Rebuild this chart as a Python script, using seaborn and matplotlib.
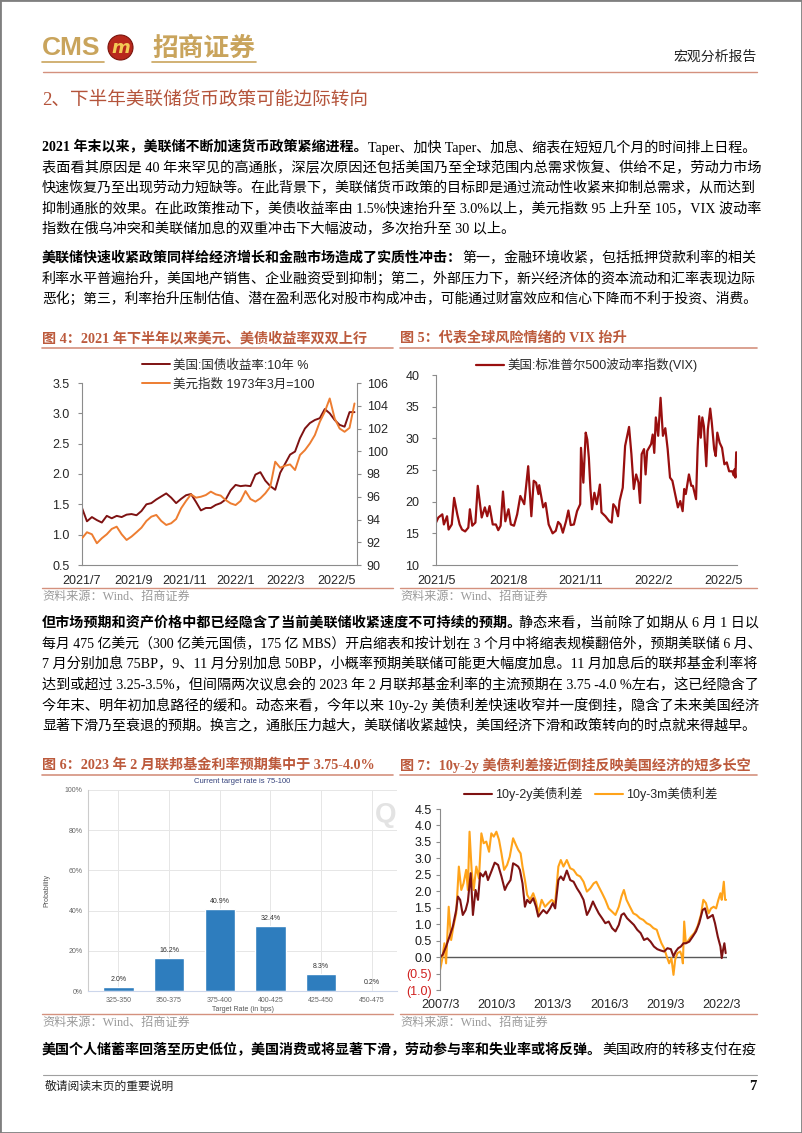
import matplotlib
matplotlib.use("Agg")
import matplotlib.pyplot as plt
import matplotlib.dates as mdates
from matplotlib.lines import Line2D
from matplotlib.patches import Ellipse, Rectangle
from matplotlib.ticker import FuncFormatter, MultipleLocator
import pandas as pd
import seaborn as sns

# ---------------- data ----------------
# fig 4: 10y UST yield (left axis) and dollar index (right axis), Jul-2021 .. May-2022
ust10y = [1.44, 1.22, 1.29, 1.24, 1.20, 1.31, 1.27, 1.31, 1.29, 1.33,
          1.34, 1.32, 1.39, 1.50, 1.52, 1.58, 1.63, 1.68, 1.61, 1.52,
          1.59, 1.65, 1.67, 1.54, 1.40, 1.44, 1.44, 1.49, 1.52, 1.58,
          1.73, 1.82, 1.80, 1.81, 1.80, 1.99, 2.03, 1.89, 1.80, 1.74,
          2.02, 2.17, 2.32, 2.37, 2.59, 2.75, 2.84, 2.89, 2.92, 3.07,
          3.00, 2.89, 2.81, 2.78, 3.02, 3.02]
dxy = [92.35, 92.88, 92.70, 91.91, 92.35, 92.70, 93.17, 93.37, 92.70, 92.20,
       92.50, 92.88, 93.28, 93.87, 94.25, 94.40, 93.87, 93.52, 93.67, 94.04,
       94.98, 95.63, 96.21, 95.92, 96.00, 96.15, 96.45, 96.21, 96.10, 95.71,
       95.42, 95.27, 95.63, 96.50, 95.80, 95.57, 95.86, 96.30, 96.88, 99.08,
       98.55, 98.73, 98.84, 98.35, 99.67, 100.10, 100.69, 101.42, 102.59, 103.47,
       104.64, 102.88, 102.00, 101.71, 102.06, 104.20]
ust_start, ust_end = "2021-07-01", "2022-05-23"

# fig 5: VIX, days after 2021-05-01
vix_start = "2021-05-01"
vix_day = [0, 3, 8, 10, 14, 16, 20, 23, 27, 30,
           33, 37, 41, 43, 46, 50, 53, 58, 62, 65,
           68, 72, 76, 79, 82, 85, 88, 92, 95, 99,
           103, 107, 112, 117, 121, 124, 127, 130, 131, 136,
           139, 143, 148, 152, 155, 158, 161, 165, 168, 171,
           175, 179, 183, 184, 187, 190, 192, 194, 196, 198,
           201, 204, 208, 210, 215, 220, 223, 225, 228, 231,
           233, 237, 240, 245, 248, 251, 254, 257, 259, 261,
           264, 266, 268, 273, 275, 277, 279, 282, 285, 288,
           291, 294, 297, 300, 304, 307, 310, 313, 315, 317,
           321, 324, 326, 330, 332, 334, 336, 338, 340, 343,
           345, 348, 350, 353, 355, 357, 360, 363, 366, 369,
           372, 376, 378, 379, 380, 381]
vix = [16.7, 17.5, 18.0, 16.4, 17.7, 15.6, 16.4, 20.6, 18.0, 16.4,
       15.6, 15.3, 15.9, 18.8, 16.2, 16.7, 22.5, 17.5, 19.1, 17.7,
       19.3, 16.4, 16.4, 15.5, 16.2, 21.6, 16.9, 18.8, 16.4, 16.2,
       18.0, 20.9, 19.6, 25.6, 17.7, 23.3, 23.0, 21.2, 22.6, 19.1,
       19.8, 16.4, 15.0, 15.4, 16.8, 16.4, 15.1, 16.9, 18.6, 16.3,
       16.4, 18.5, 19.6, 28.5, 23.0, 30.9, 29.8, 26.9, 22.0, 18.8,
       21.4, 19.6, 22.7, 18.3, 17.7, 16.9, 16.7, 19.6, 19.1, 17.7,
       20.1, 22.2, 28.8, 31.8, 27.5, 22.0, 24.3, 23.0, 19.8, 27.5,
       28.3, 24.3, 28.0, 29.1, 30.6, 27.7, 33.3, 30.4, 36.4, 30.4,
       31.6, 28.3, 23.8, 23.3, 20.9, 19.1, 20.1, 18.5, 22.0, 21.2,
       24.3, 22.5, 22.5, 20.4, 28.3, 33.5, 30.1, 33.3, 31.9, 25.6,
       31.4, 34.7, 32.5, 28.3, 27.2, 30.9, 29.3, 28.5, 25.9, 26.2,
       24.8, 24.8, 24.1, 25.1, 23.8, 27.8]

# fig 6: CME FedWatch, Feb-2023 meeting
rate_bins = ["325-350", "350-375", "375-400", "400-425", "425-450", "450-475"]
rate_prob = [2.0, 16.2, 40.9, 32.4, 8.3, 0.2]

# fig 7: term spreads (decimal years)
s2y_year = [2007.17, 2007.31, 2007.49, 2007.67, 2007.85, 2008.03, 2008.12, 2008.24, 2008.38, 2008.53,
            2008.65, 2008.80, 2008.92, 2009.06, 2009.19, 2009.31, 2009.46, 2009.60, 2009.72, 2009.90,
            2010.08, 2010.26, 2010.44, 2010.62, 2010.74, 2010.92, 2011.06, 2011.21, 2011.33, 2011.42,
            2011.56, 2011.69, 2011.81, 2011.96, 2012.13, 2012.28, 2012.40, 2012.53, 2012.67, 2012.85,
            2013.03, 2013.17, 2013.30, 2013.47, 2013.60, 2013.74, 2013.92, 2014.10, 2014.28, 2014.46,
            2014.63, 2014.81, 2014.99, 2015.13, 2015.31, 2015.44, 2015.62, 2015.80, 2015.97, 2016.15,
            2016.33, 2016.51, 2016.69, 2016.83, 2016.96, 2017.13, 2017.31, 2017.49, 2017.67, 2017.85,
            2018.03, 2018.21, 2018.38, 2018.56, 2018.74, 2018.92, 2019.10, 2019.28, 2019.46, 2019.60,
            2019.72, 2019.85, 2019.99, 2020.13, 2020.26, 2020.44, 2020.62, 2020.80, 2020.97, 2021.15,
            2021.28, 2021.42, 2021.56, 2021.69, 2021.81, 2021.96, 2022.10, 2022.17, 2022.24, 2022.31, 2022.38]
s2y = [0.00, 0.07, 0.32, 0.62, 0.93, 1.43, 1.84, 1.74, 1.28, 1.43,
       1.69, 2.55, 1.28, 2.04, 1.74, 2.55, 2.45, 2.60, 2.34, 2.60,
       2.87, 2.80, 2.45, 2.04, 2.19, 2.34, 2.85, 2.80, 2.75, 2.65,
       2.24, 1.53, 1.74, 1.64, 1.79, 1.53, 1.23, 1.33, 1.43, 1.33,
       1.48, 1.64, 1.48, 2.34, 2.45, 2.34, 2.63, 2.34, 2.29, 2.09,
       1.94, 1.74, 1.28, 1.43, 1.69, 1.53, 1.33, 1.18, 1.03, 1.08,
       0.88, 0.78, 0.98, 1.28, 1.33, 1.18, 1.08, 0.98, 0.83, 0.73,
       0.52, 0.57, 0.47, 0.32, 0.24, 0.20, 0.17, 0.27, 0.24, 0.02,
       0.17, 0.27, 0.32, 0.42, 0.42, 0.47, 0.62, 0.78, 1.03, 1.43,
       1.48, 1.18, 1.23, 1.28, 1.03, 0.62, 0.32, -0.03, 0.22, 0.42, 0.12]
s3m_year = [2007.17, 2007.28, 2007.40, 2007.49, 2007.63, 2007.76, 2007.88, 2008.03, 2008.17, 2008.30,
            2008.42, 2008.56, 2008.65, 2008.74, 2008.85, 2008.96, 2009.10, 2009.24, 2009.37, 2009.49,
            2009.63, 2009.78, 2009.90, 2010.03, 2010.17, 2010.31, 2010.44, 2010.58, 2010.74, 2010.88,
            2011.06, 2011.21, 2011.33, 2011.46, 2011.56, 2011.69, 2011.81, 2011.96, 2012.13, 2012.28,
            2012.40, 2012.58, 2012.76, 2012.94, 2013.12, 2013.30, 2013.47, 2013.60, 2013.74, 2013.92,
            2014.10, 2014.28, 2014.46, 2014.63, 2014.81, 2014.99, 2015.17, 2015.35, 2015.49, 2015.62,
            2015.80, 2015.97, 2016.15, 2016.33, 2016.51, 2016.69, 2016.83, 2016.96, 2017.10, 2017.28,
            2017.46, 2017.63, 2017.81, 2017.99, 2018.17, 2018.35, 2018.53, 2018.71, 2018.83, 2018.96,
            2019.10, 2019.24, 2019.37, 2019.49, 2019.60, 2019.69, 2019.81, 2019.96, 2020.05, 2020.10,
            2020.17, 2020.26, 2020.35, 2020.53, 2020.71, 2020.88, 2021.06, 2021.19, 2021.33, 2021.47,
            2021.60, 2021.74, 2021.87, 2021.99, 2022.10, 2022.17, 2022.28, 2022.35, 2022.40]
s3m = [-0.39, -0.08, 0.42, -0.19, 1.53, 0.52, 0.93, 1.33, 2.75, 2.04,
       2.24, 2.65, 2.04, 3.81, 2.65, 2.04, 2.75, 2.39, 3.76, 3.46,
       3.51, 3.20, 3.76, 3.66, 3.81, 3.56, 3.15, 2.65, 2.80, 3.05,
       3.61, 3.41, 3.26, 3.15, 2.75, 2.34, 1.89, 1.74, 1.94, 1.69,
       1.33, 1.74, 1.53, 1.64, 1.74, 1.64, 2.75, 2.95, 2.75, 2.95,
       2.70, 2.65, 2.50, 2.45, 2.29, 1.99, 2.09, 2.24, 2.29, 2.14,
       1.94, 1.74, 1.48, 1.38, 1.28, 1.53, 1.84, 2.04, 1.74, 1.53,
       1.33, 1.28, 1.18, 1.13, 1.03, 0.98, 0.88, 0.83, 0.62, 0.42,
       0.27, 0.02, -0.19, -0.03, -0.54, -0.08, 0.12, 0.17, 0.02, -0.19,
       1.08, 0.42, 0.47, 0.62, 0.73, 0.93, 1.28, 1.74, 1.64, 1.33,
       1.48, 1.53, 1.48, 1.74, 1.94, 1.74, 2.29, 1.74, 1.74]
spread_ticks = ["2007/3", "2010/3", "2013/3", "2016/3", "2019/3", "2022/3"]

# ---------------- page text ----------------
para1 = [
    [("2021 年末以来，美联储不断加速货币政策紧缩进程。", True), ("Taper、加快 Taper、加息、缩表在短短几个月的时间排上日程。", False)],
    [("表面看其原因是 40 年来罕见的高通胀，深层次原因还包括美国乃至全球范围内总需求恢复、供给不足，劳动力市场", False)],
    [("快速恢复乃至出现劳动力短缺等。在此背景下，美联储货币政策的目标即是通过流动性收紧来抑制总需求，从而达到", False)],
    [("抑制通胀的效果。在此政策推动下，美债收益率由 1.5%快速抬升至 3.0%以上，美元指数 95 上升至 105，VIX 波动率", False)],
    [("指数在俄乌冲突和美联储加息的双重冲击下大幅波动，多次抬升至 30 以上。", False)],
]
para2 = [
    [("美联储快速收紧政策同样给经济增长和金融市场造成了实质性冲击：", True), ("第一，金融环境收紧，包括抵押贷款利率的相关", False)],
    [("利率水平普遍抬升，美国地产销售、企业融资受到抑制；第二，外部压力下，新兴经济体的资本流动和汇率表现边际", False)],
    [("恶化；第三，利率抬升压制估值、潜在盈利恶化对股市构成冲击，可能通过财富效应和信心下降而不利于投资、消费。", False)],
]
para3 = [
    [("但市场预期和资产价格中都已经隐含了当前美联储收紧速度不可持续的预期。", True), ("静态来看，当前除了如期从 6 月 1 日以", False)],
    [("每月 475 亿美元（300 亿美元国债，175 亿 MBS）开启缩表和按计划在 3 个月中将缩表规模翻倍外，预期美联储 6 月、", False)],
    [("7 月分别加息 75BP，9、11 月分别加息 50BP，小概率预期美联储可能更大幅度加息。11 月加息后的联邦基金利率将", False)],
    [("达到或超过 3.25-3.5%，但间隔两次议息会的 2023 年 2 月联邦基金利率的主流预期在 3.75 -4.0 %左右，这已经隐含了", False)],
    [("今年末、明年初加息路径的缓和。动态来看，今年以来 10y-2y 美债利差快速收窄并一度倒挂，隐含了未来美国经济", False)],
    [("显著下滑乃至衰退的预期。换言之，通胀压力越大，美联储收紧越快，美国经济下滑和政策转向的时点就来得越早。", False)],
]
para4 = [
    [("美国个人储蓄率回落至历史低位，美国消费或将显著下滑，劳动参与率和失业率或将反弹。", True), ("美国政府的转移支付在疫", False)],
]

# ---------------- style ----------------
sns.set_style("white")
SANS = ["Liberation Sans", "Noto Sans CJK SC"]
SERIF = ["Liberation Serif", "Noto Sans CJK SC"]
plt.rcParams["font.family"] = SANS
plt.rcParams["axes.unicode_minus"] = False

GOLD = "#C9A45C"
TITLE_RED = "#BC5A3C"
RULE = "#D4917E"
GREY_SRC = "#9A9A9A"
AXIS_GREY = "#8C8C8C"
MAROON = "#7E1212"
ORANGE4 = "#ED7D31"
VIX_RED = "#990F0F"
ORANGE7 = "#FFA31A"
BLUE6 = "#2E7DBE"

W, H = 802, 1133
fig = plt.figure(figsize=(W / 100, H / 100), dpi=100)
renderer = fig.canvas.get_renderer()


def fx(px):
    return px / W


def fy(py):
    return 1 - py / H


def box(left, top, right, bottom):
    return [left / W, 1 - bottom / H, (right - left) / W, (bottom - top) / H]


def hline(x0, x1, y, color, lw=1.0):
    fig.add_artist(Line2D([fx(x0), fx(x1)], [fy(y), fy(y)], color=color, lw=lw,
                          transform=fig.transFigure))


def put_line(y, parts, justify=True, size=10.2, x0=42, x1=757):
    arts = [fig.text(fx(x0), fy(y), s, fontsize=size, family=SERIF, color="black",
                     weight="bold" if b else "normal", va="center", ha="left")
            for s, b in parts]
    widths = [a.get_window_extent(renderer).width for a in arts]
    k = (x1 - x0) / sum(widths) if justify else 1.0
    k = min(max(k, 0.85), 1.15)
    x = x0
    for a, w in zip(arts, widths):
        a.set_fontsize(size * k)
        a.set_x(fx(x))
        x += w * k


def put_para(y0, lines, step=20.6, last_full=True):
    for i, parts in enumerate(lines):
        put_line(y0 + i * step, parts, justify=(i < len(lines) - 1) or last_full)


def chart_header(x0, x1, y, text):
    fig.text(fx(x0), fy(y), text, fontsize=10.2, family=SERIF, weight="bold",
             color=TITLE_RED, va="center", ha="left")
    hline(x0, x1, y + 10, RULE, 1.2)


def chart_source(x0, x1, y):
    hline(x0, x1, y - 9, RULE, 1.0)
    fig.text(fx(x0), fy(y), "资料来源：Wind、招商证券", fontsize=8.7, family=SERIF,
             color=GREY_SRC, va="center", ha="left")


def ym_label(v, _):
    d = mdates.num2date(v)
    return f"{d.year}/{d.month}"


def drop_legend(ax):
    if ax.get_legend() is not None:
        ax.get_legend().remove()


LEG = dict(family=SANS, size=9)

# ---------------- header ----------------
fig.text(fx(42), fy(48), "CMS", fontsize=19, weight="bold", color=GOLD,
         family="Liberation Sans", va="center", ha="left")
fig.add_artist(Ellipse((fx(120.5), fy(47.5)), 25 / W, 25 / H, transform=fig.transFigure,
                       facecolor="#B8281C", edgecolor="#7A140C", lw=0.8))
fig.text(fx(120.5), fy(48), "m", fontsize=13, weight="bold", style="italic",
         color="#F3CB55", family="DejaVu Sans", va="center", ha="center")
fig.text(fx(152), fy(48), "招商证券", fontsize=18.5, color=GOLD, weight="bold",
         family=["Noto Sans CJK SC"], va="center", ha="left")
hline(42, 104, 62, GOLD, 1.2)
hline(152, 256, 62, GOLD, 1.2)
fig.text(fx(757), fy(57), "宏观分析报告", fontsize=10, family=SERIF, color="#222222",
         va="center", ha="right")
hline(43, 757, 72, RULE, 1.0)

fig.text(fx(42), fy(100), "2、下半年美联储货币政策可能边际转向", fontsize=13.4,
         family=SERIF, color="#B4533A", va="center", ha="left")

put_para(147, para1, last_full=False)
put_para(258, para2)

# ---------------- fig 4 ----------------
chart_header(42, 393, 338, "图 4：2021 年下半年以来美元、美债收益率双双上行")
ust_dates = pd.date_range(ust_start, ust_end, periods=len(ust10y))
ax4 = fig.add_axes(box(82, 383, 357, 565))
sns.lineplot(x=ust_dates, y=ust10y, ax=ax4, color=MAROON, lw=1.4, label="美国:国债收益率:10年 %")
ax4r = ax4.twinx()
sns.lineplot(x=ust_dates, y=dxy, ax=ax4r, color=ORANGE4, lw=1.4, label="美元指数 1973年3月=100")
drop_legend(ax4)
drop_legend(ax4r)
ax4.set_xlim(pd.Timestamp("2021-07-01"), pd.Timestamp("2022-05-26"))
ax4.set_ylim(0.5, 3.5)
ax4r.set_ylim(90, 106)
ax4.yaxis.set_major_locator(MultipleLocator(0.5))
ax4.yaxis.set_major_formatter(FuncFormatter(lambda v, _: f"{v:.1f}"))
ax4r.yaxis.set_major_locator(MultipleLocator(2))
ax4.xaxis.set_major_locator(mdates.MonthLocator(bymonth=[1, 3, 5, 7, 9, 11]))
ax4.xaxis.set_major_formatter(FuncFormatter(ym_label))
for a in (ax4, ax4r):
    a.set(xlabel="", ylabel="")
    a.spines["top"].set_visible(False)
    for s in a.spines.values():
        s.set_color(AXIS_GREY)
        s.set_linewidth(0.8)
ax4.spines["right"].set_visible(False)
ax4r.spines["left"].set_visible(False)
ax4r.spines["bottom"].set_visible(False)
ax4.tick_params(axis="y", left=True, length=3, width=0.8, color=AXIS_GREY, pad=6, labelsize=9)
ax4.tick_params(axis="x", bottom=False, pad=4, labelsize=9)
ax4r.tick_params(axis="y", right=True, length=3, width=0.8, color=AXIS_GREY, pad=4, labelsize=9)
fig.legend(ax4.get_lines()[:1] + ax4r.get_lines()[:1],
           ["美国:国债收益率:10年 %", "美元指数 1973年3月=100"],
           loc="upper left", bbox_to_anchor=(fx(142), fy(359)), frameon=False, prop=LEG,
           handlelength=2.2, handletextpad=0.3, labelspacing=0.55, borderpad=0, borderaxespad=0)
chart_source(42, 393, 597)

# ---------------- fig 5 ----------------
chart_header(400, 757, 338, "图 5：代表全球风险情绪的 VIX 抬升")
vix_dates = pd.Timestamp(vix_start) + pd.to_timedelta(vix_day, unit="D")
ax5 = fig.add_axes(box(436, 375, 737, 565))
sns.lineplot(x=vix_dates, y=vix, ax=ax5, color=VIX_RED, lw=1.6, label="美国:标准普尔500波动率指数(VIX)")
drop_legend(ax5)
ax5.set(xlabel="", ylabel="")
ax5.set_xlim(pd.Timestamp(vix_start), pd.Timestamp(vix_start) + pd.Timedelta(days=382))
ax5.set_ylim(10, 40)
ax5.yaxis.set_major_locator(MultipleLocator(5))
ax5.xaxis.set_major_locator(mdates.MonthLocator(bymonth=[2, 5, 8, 11]))
ax5.xaxis.set_major_formatter(FuncFormatter(ym_label))
sns.despine(ax=ax5)
for s in ("left", "bottom"):
    ax5.spines[s].set_color(AXIS_GREY)
    ax5.spines[s].set_linewidth(0.8)
ax5.tick_params(axis="y", left=True, length=3, width=0.8, color=AXIS_GREY, pad=9, labelsize=9)
ax5.tick_params(axis="x", bottom=False, pad=4, labelsize=9)
fig.legend(ax5.get_lines()[:1], ["美国:标准普尔500波动率指数(VIX)"],
           loc="upper left", bbox_to_anchor=(fx(476), fy(358)), frameon=False, prop=LEG,
           handlelength=2.2, handletextpad=0.3, borderpad=0, borderaxespad=0)
chart_source(400, 757, 597)

put_para(623, para3)

# ---------------- fig 6 ----------------
chart_header(42, 393, 765, "图 6：2023 年 2 月联邦基金利率预期集中于 3.75-4.0%")
ax6 = fig.add_axes(box(88, 790, 397, 991))
sns.barplot(x=rate_bins, y=rate_prob, ax=ax6, color=BLUE6, saturation=1, width=0.6)
ax6.set_xlim(-0.6, 5.5)
ax6.set_ylim(0, 100)
ax6.yaxis.set_major_locator(MultipleLocator(20))
ax6.yaxis.set_major_formatter(FuncFormatter(lambda v, _: f"{v:.0f}%"))
ax6.set_axisbelow(True)
ax6.grid(True, color="#E6E6E6", lw=0.7)
ax6.bar_label(ax6.containers[0], labels=[f"{p:.1f}%" for p in rate_prob], padding=3,
              fontsize=5, color="#333333")
ax6.set_xlabel("Target Rate (in bps)", fontsize=5, color="#555555", labelpad=2)
ax6.set_ylabel("Probability", fontsize=5, color="#555555", labelpad=10)
sns.despine(ax=ax6)
ax6.spines["left"].set_color("#CCCCCC")
ax6.spines["bottom"].set_color("#CCD6EB")
ax6.tick_params(axis="both", length=0, labelsize=5, labelcolor="#666666", pad=4)
ax6.set_title("Current target rate is 75-100", fontsize=5.5, color="#33407A", pad=5)
fig.text(fx(386), fy(815), "Q", fontsize=20, weight="bold", color="#E3E3E3",
         va="center", ha="center")
chart_source(42, 393, 1023)

# ---------------- fig 7 ----------------
chart_header(400, 757, 765, "图 7：10y-2y 美债利差接近倒挂反映美国经济的短多长空")
ax7 = fig.add_axes(box(440, 809, 727, 990))
ax7.axhline(0, color="#595959", lw=1.0)
sns.lineplot(x=s3m_year, y=s3m, ax=ax7, color=ORANGE7, lw=1.5, label="10y-3m美债利差")
sns.lineplot(x=s2y_year, y=s2y, ax=ax7, color=MAROON, lw=1.5, label="10y-2y美债利差")
drop_legend(ax7)
ax7.set(xlabel="", ylabel="")
ax7.set_xlim(2007.17, 2022.45)
ax7.set_ylim(-1.0, 4.5)
tick_years = [int(t.split("/")[0]) + (int(t.split("/")[1]) - 1) / 12 for t in spread_ticks]
ax7.set_xticks(tick_years, labels=spread_ticks)
yvals = [v / 2 for v in range(-2, 10)]
ax7.set_yticks(yvals, labels=[f"({abs(v):.1f})" if v < 0 else f"{v:.1f}" for v in yvals])
for lab, v in zip(ax7.get_yticklabels(), yvals):
    lab.set_color("#D0201E" if v < 0 else "#1A1A1A")
sns.despine(ax=ax7, bottom=True)
ax7.spines["left"].set_color(AXIS_GREY)
ax7.spines["left"].set_linewidth(0.8)
ax7.tick_params(axis="y", left=True, length=3, width=0.8, color=AXIS_GREY, pad=3, labelsize=9)
ax7.tick_params(axis="x", bottom=False, pad=3, labelsize=9)
lines7 = {l.get_label(): l for l in ax7.get_lines()}
fig.legend([lines7["10y-2y美债利差"], lines7["10y-3m美债利差"]], ["10y-2y美债利差", "10y-3m美债利差"],
           loc="upper left", bbox_to_anchor=(fx(464), fy(787)), frameon=False, prop=LEG, ncol=2,
           handlelength=2.2, handletextpad=0.3, columnspacing=1.0, borderpad=0, borderaxespad=0)
chart_source(400, 757, 1023)

put_para(1050, para4)

# ---------------- footer ----------------
hline(43, 757, 1075, "#A0A0A0", 0.8)
fig.text(fx(45), fy(1087), "敬请阅读末页的重要说明", fontsize=8.5, family=SERIF,
         color="#222222", va="center", ha="left")
fig.text(fx(757), fy(1087), "7", fontsize=10.5, family=SERIF, weight="bold",
         color="#111111", va="center", ha="right")
fig.add_artist(Rectangle((0, 0), 1, 1, transform=fig.transFigure, fill=False,
                         edgecolor="#7F7F7F", lw=2))

fig.savefig("out.png", dpi=100)
